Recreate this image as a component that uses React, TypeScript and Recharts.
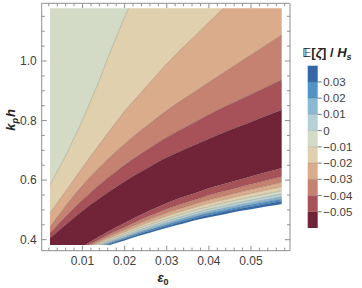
import { ComposedChart, Area, Line, XAxis, YAxis, ReferenceArea, ReferenceLine } from 'recharts';

const W = 362;
const H = 288;
const FONT = '"Liberation Sans", Arial, sans-serif';
const INK = '#404040';
const FRAME_COLOR = '#8f8f8f';

// frame and filled data box, page pixels
const FRAME = { left: 41.7, top: 3.3, right: 290, bottom: 250.7 };
const BOX = { left: 50, top: 8.3, right: 281.7, bottom: 245 };

const X_FRAME: [number, number] = [0.000315, 0.05926];
const Y_FRAME: [number, number] = [0.363, 1.1938];
const X_BOX: [number, number] = [0.002285, 0.05729];
const Y_BOX: [number, number] = [0.3821, 1.177];

// epsilon samples
const eps = [0.002, 0.004, 0.006, 0.008, 0.01, 0.012, 0.014, 0.016, 0.018, 0.02, 0.023, 0.026, 0.029, 0.032, 0.035, 0.038, 0.041, 0.044, 0.047, 0.05, 0.054, 0.058];

// upper branch contours (kp h), levels -0.01 .. -0.05
const upM01 = [0.577, 0.629, 0.682, 0.741, 0.801, 0.868, 0.936, 1.010, 1.080, 1.147, 1.246, 1.343, 1.440, 1.537, 1.635, 1.73, 1.83, 1.93, 2.03, 2.13, 2.26, 2.39];
const upM02 = [0.484, 0.5235, 0.5628, 0.6028, 0.6424, 0.682, 0.7196, 0.7572, 0.7948, 0.8314, 0.8798, 0.9275, 0.9752, 1.0202, 1.0615, 1.1028, 1.1437, 1.1847, 1.226, 1.267, 1.322, 1.3768];
const upM03 = [0.4372, 0.4752, 0.5134, 0.549, 0.5816, 0.6138, 0.642, 0.6703, 0.6964, 0.7216, 0.7572, 0.7901, 0.8234, 0.8536, 0.8815, 0.9097, 0.9375, 0.9654, 0.9933, 1.0205, 1.0574, 1.0944];
const upM04 = [0.4181, 0.448, 0.4775, 0.506, 0.5329, 0.5594, 0.5836, 0.6075, 0.6293, 0.6504, 0.68, 0.7075, 0.7351, 0.7592, 0.7817, 0.8046, 0.8267, 0.8479, 0.8677, 0.8878, 0.9144, 0.9409];
const upM05 = [0.4023, 0.4261, 0.4503, 0.4738, 0.4963, 0.5188, 0.5386, 0.5584, 0.5769, 0.5954, 0.6212, 0.6451, 0.6692, 0.6897, 0.7079, 0.7263, 0.7448, 0.7623, 0.7791, 0.7955, 0.8177, 0.8395];

// lower branch contours, levels -0.05 .. 0.03
const loM05 = [0.3069, 0.3244, 0.3418, 0.3593, 0.3768, 0.3939, 0.4103, 0.4265, 0.4416, 0.456, 0.4782, 0.498, 0.5168, 0.5339, 0.548, 0.5625, 0.5766, 0.5886, 0.6004, 0.6122, 0.6279, 0.6434];
const loM04 = [0.304, 0.3213, 0.3382, 0.3547, 0.3708, 0.3862, 0.4009, 0.4153, 0.429, 0.442, 0.4622, 0.4801, 0.4973, 0.5131, 0.5266, 0.5403, 0.553, 0.5641, 0.5752, 0.5858, 0.6001, 0.6141];
const loM03 = [0.3021, 0.3193, 0.3358, 0.3517, 0.3669, 0.3811, 0.3946, 0.4078, 0.4205, 0.4326, 0.4515, 0.4682, 0.4843, 0.4993, 0.5123, 0.5254, 0.5372, 0.5478, 0.5584, 0.5683, 0.5815, 0.5946];
const loM02 = [0.3006, 0.3177, 0.3339, 0.3494, 0.3639, 0.3773, 0.3899, 0.4022, 0.4142, 0.4256, 0.4435, 0.4593, 0.4745, 0.4889, 0.5016, 0.5143, 0.5254, 0.5355, 0.5457, 0.5551, 0.5676, 0.58];
const loM01 = [0.2993, 0.3163, 0.3323, 0.3473, 0.3612, 0.3738, 0.3855, 0.3971, 0.4084, 0.4192, 0.4361, 0.4511, 0.4656, 0.4793, 0.4917, 0.5041, 0.5146, 0.5243, 0.5342, 0.543, 0.5549, 0.5666];
const lo000 = [0.2982, 0.3152, 0.3309, 0.3455, 0.3589, 0.3709, 0.382, 0.3929, 0.4037, 0.414, 0.4301, 0.4444, 0.4583, 0.4715, 0.4837, 0.4958, 0.5058, 0.5151, 0.5247, 0.5331, 0.5445, 0.5556];
const loP01 = [0.2972, 0.3142, 0.3297, 0.344, 0.357, 0.3684, 0.3789, 0.3891, 0.3994, 0.4093, 0.4248, 0.4384, 0.4518, 0.4646, 0.4766, 0.4883, 0.4979, 0.5069, 0.5163, 0.5244, 0.5352, 0.5459];
const loP02 = [0.2965, 0.3134, 0.3288, 0.3429, 0.3555, 0.3665, 0.3765, 0.3863, 0.3963, 0.4058, 0.4208, 0.4339, 0.4469, 0.4594, 0.4712, 0.4828, 0.492, 0.5008, 0.51, 0.5178, 0.5282, 0.5386];
const loP03 = [0.2957, 0.3126, 0.3278, 0.3416, 0.3539, 0.3644, 0.3739, 0.3833, 0.3929, 0.402, 0.4164, 0.4291, 0.4416, 0.4538, 0.4654, 0.4768, 0.4856, 0.4942, 0.5032, 0.5106, 0.5207, 0.5306];
// edge of the defined region (white below)
const breakLimit = [0.2948, 0.3116, 0.3267, 0.3402, 0.352, 0.362, 0.371, 0.3798, 0.3889, 0.3976, 0.4114, 0.4235, 0.4355, 0.4473, 0.4587, 0.4698, 0.4782, 0.4865, 0.4953, 0.5024, 0.512, 0.5215];

const TOP_CAP = 1.3;

// band colours
const C_M06 = '#712437';
const C_M05 = '#a75259';
const C_M04 = '#c58270';
const C_M03 = '#daac8b';
const C_M02 = '#e1d0ad';
const C_M01 = '#d3dbc7';
const C_P00 = '#b6d1d5';
const C_P01 = '#8bb9d3';
const C_P02 = '#5394c6';
const C_P03 = '#3468a6';

// ticks
const xMajor = [0.01, 0.02, 0.03, 0.04, 0.05];
const xMinor = [0.002, 0.004, 0.006, 0.008, 0.012, 0.014, 0.016, 0.018, 0.022, 0.024, 0.026, 0.028, 0.032, 0.034, 0.036, 0.038, 0.042, 0.044, 0.046, 0.048, 0.052, 0.054, 0.056, 0.058];
const yMajor = [0.4, 0.6, 0.8, 1.0];
const yMinor = [0.45, 0.5, 0.55, 0.65, 0.7, 0.75, 0.85, 0.9, 0.95, 1.05, 1.1, 1.15];

// colour bar
const cbLevels = [-0.06, -0.05, -0.04, -0.03, -0.02, -0.01, 0, 0.01, 0.02, 0.03, 0.04];
const cbColors = [C_M06, C_M05, C_M04, C_M03, C_M02, C_M01, C_P00, C_P01, C_P02, C_P03];
const cbTicks = [-0.05, -0.04, -0.03, -0.02, -0.01, 0, 0.01, 0.02, 0.03];

type Band = { lo: number[]; hi: number[] | null; color: string };

const bands: Band[] = [
  { lo: upM01, hi: null, color: C_M01 },
  { lo: upM02, hi: upM01, color: C_M02 },
  { lo: upM03, hi: upM02, color: C_M03 },
  { lo: upM04, hi: upM03, color: C_M04 },
  { lo: upM05, hi: upM04, color: C_M05 },
  { lo: loM05, hi: upM05, color: C_M06 },
  { lo: loM04, hi: loM05, color: C_M05 },
  { lo: loM03, hi: loM04, color: C_M04 },
  { lo: loM02, hi: loM03, color: C_M03 },
  { lo: loM01, hi: loM02, color: C_M02 },
  { lo: lo000, hi: loM01, color: C_M01 },
  { lo: loP01, hi: lo000, color: C_P00 },
  { lo: loP02, hi: loP01, color: C_P01 },
  { lo: loP03, hi: loP02, color: C_P02 },
  { lo: breakLimit, hi: loP03, color: C_P03 },
];

const contours = [upM01, upM02, upM03, upM04, upM05, loM05, loM04, loM03, loM02, loM01, lo000, loP01, loP02, loP03];

const rows = eps.map((e, i) => {
  const row: Record<string, any> = { eps: e };
  bands.forEach((b, j) => {
    row[`b${j}`] = [b.lo[i], b.hi ? b.hi[i] : TOP_CAP];
  });
  contours.forEach((c, k) => {
    row[`c${k}`] = c[i];
  });
  return row;
});

const cbRows = [0, 1].map((x) => {
  const row: Record<string, any> = { x };
  cbColors.forEach((_, j) => {
    row[`k${j}`] = [cbLevels[j], cbLevels[j + 1]];
  });
  return row;
});

const isIn = (list: number[], v: number) => list.some((m) => Math.abs(m - v) < 1e-9);

function XTick({ x, y, payload }: any) {
  const v = payload.value as number;
  const major = isIn(xMajor, v);
  const len = major ? 5 : 3;
  return (
    <g>
      <line x1={x} x2={x} y1={y} y2={y - len} stroke={FRAME_COLOR} />
      <line x1={x} x2={x} y1={FRAME.top} y2={FRAME.top + len} stroke={FRAME_COLOR} />
      {major && (
        <text x={x} y={y + 14.3} textAnchor="middle" fontSize={12} fill={INK} fontFamily={FONT}>
          {v.toFixed(2)}
        </text>
      )}
    </g>
  );
}

function YTick({ x, y, payload }: any) {
  const v = payload.value as number;
  const major = isIn(yMajor, v);
  const len = major ? 5 : 3;
  return (
    <g>
      <line x1={x} x2={x + len} y1={y} y2={y} stroke={FRAME_COLOR} />
      <line x1={FRAME.right} x2={FRAME.right - len} y1={y} y2={y} stroke={FRAME_COLOR} />
      {major && (
        <text x={x - 5} y={y + 4.3} textAnchor="end" fontSize={12} fill={INK} fontFamily={FONT}>
          {v.toFixed(1)}
        </text>
      )}
    </g>
  );
}

const cbFormat = (v: number) => (v === 0 ? '0' : v < 0 ? `\u2212${Math.abs(v).toFixed(2)}` : v.toFixed(2));

const layer: React.CSSProperties = { position: 'absolute', left: 0, top: 0 };

export default function App() {
  return (
    <div style={{ position: 'absolute', left: 0, top: 0, width: W, height: H, background: '#fff', fontFamily: FONT }}>
      {/* frame, ticks and tick labels */}
      <div style={layer}>
        <ComposedChart
          width={W}
          height={H}
          data={rows}
          margin={{ top: FRAME.top, right: W - FRAME.right, bottom: 0, left: 0 }}
        >
          <XAxis
            type="number"
            dataKey="eps"
            domain={X_FRAME}
            allowDataOverflow
            ticks={[...xMinor, ...xMajor].sort((a, b) => a - b)}
            interval={0}
            tick={(p: any) => <XTick {...p} />}
            tickLine={false}
            axisLine={false}
            tickSize={0}
            tickMargin={0}
            height={H - FRAME.bottom}
          />
          <YAxis
            type="number"
            domain={Y_FRAME}
            allowDataOverflow
            ticks={[...yMinor, ...yMajor].sort((a, b) => a - b)}
            interval={0}
            tick={(p: any) => <YTick {...p} />}
            tickLine={false}
            axisLine={false}
            tickSize={0}
            tickMargin={0}
            width={FRAME.left}
          />
          <ReferenceArea
            x1={X_FRAME[0]}
            x2={X_FRAME[1]}
            y1={Y_FRAME[0]}
            y2={Y_FRAME[1]}
            fill="none"
            stroke={FRAME_COLOR}
            strokeWidth={1}
            ifOverflow="visible"
          />
          <Line dataKey="c0" stroke="none" dot={false} activeDot={false} isAnimationActive={false} />
        </ComposedChart>
      </div>

      {/* filled contour bands, clipped to the data box */}
      <div style={layer}>
        <ComposedChart
          width={W}
          height={H}
          data={rows}
          margin={{ top: BOX.top, right: W - BOX.right, bottom: H - BOX.bottom, left: BOX.left }}
        >
          <XAxis type="number" dataKey="eps" domain={X_BOX} allowDataOverflow hide height={0} />
          <YAxis type="number" domain={Y_BOX} allowDataOverflow hide width={0} />
          {bands.map((b, j) => (
            <Area
              key={`b${j}`}
              dataKey={`b${j}`}
              type="monotone"
              fill={b.color}
              fillOpacity={1}
              stroke="none"
              dot={false}
              activeDot={false}
              isAnimationActive={false}
            />
          ))}
          {contours.map((_, k) => (
            <Line
              key={`c${k}`}
              dataKey={`c${k}`}
              type="monotone"
              stroke="#3a3a3a"
              strokeOpacity={0.3}
              strokeWidth={0.7}
              dot={false}
              activeDot={false}
              isAnimationActive={false}
            />
          ))}
        </ComposedChart>
      </div>

      {/* colour bar */}
      <div style={layer}>
        <ComposedChart
          width={W}
          height={H}
          data={cbRows}
          margin={{ top: 65.7, right: 4.3, bottom: H - 228, left: 307.7 }}
        >
          <XAxis type="number" dataKey="x" domain={[0, 1]} hide height={0} />
          <YAxis
            type="number"
            orientation="right"
            domain={[cbLevels[0], cbLevels[cbLevels.length - 1]]}
            ticks={cbTicks}
            interval={0}
            tickFormatter={cbFormat}
            axisLine={false}
            tickLine={{ stroke: '#777' }}
            tickSize={4}
            tickMargin={1.5}
            tick={{ fontSize: 11.5, fill: INK, fontFamily: FONT }}
            width={40}
          />
          {cbColors.map((c, j) => (
            <Area
              key={`k${j}`}
              dataKey={`k${j}`}
              type="linear"
              fill={c}
              fillOpacity={1}
              stroke="none"
              dot={false}
              activeDot={false}
              isAnimationActive={false}
            />
          ))}
          {cbTicks.map((t) => (
            <ReferenceLine key={t} y={t} stroke="#000" strokeOpacity={0.15} strokeWidth={0.8} />
          ))}
        </ComposedChart>
      </div>

      {/* axis titles */}
      <svg width={W} height={H} style={{ ...layer, pointerEvents: 'none' }}>
        <text
          transform="translate(15,120) rotate(-90)"
          textAnchor="middle"
          fontSize={13}
          fontWeight="bold"
          fontStyle="italic"
          fill="#222"
          fontFamily={FONT}
        >
          k<tspan dy={3} fontSize={9}>p</tspan>
          <tspan dy={-3} dx={1}>h</tspan>
        </text>
        <text x={163} y={282} textAnchor="middle" fontSize={13} fontWeight="bold" fill="#222" fontFamily={FONT}>
          <tspan fontStyle="italic">ε</tspan>
          <tspan dy={3} fontSize={9}>0</tspan>
        </text>
        <text x={327} y={56.5} textAnchor="middle" fontSize={13} fontWeight="bold" fill="#222" fontFamily={FONT}>
          <tspan fontFamily={'"DejaVu Sans", ' + FONT}>𝔼</tspan>[<tspan fontStyle="italic">ζ</tspan>] / <tspan fontStyle="italic">H</tspan>
          <tspan dy={3} fontSize={9} fontStyle="italic">s</tspan>
        </text>
      </svg>
    </div>
  );
}
